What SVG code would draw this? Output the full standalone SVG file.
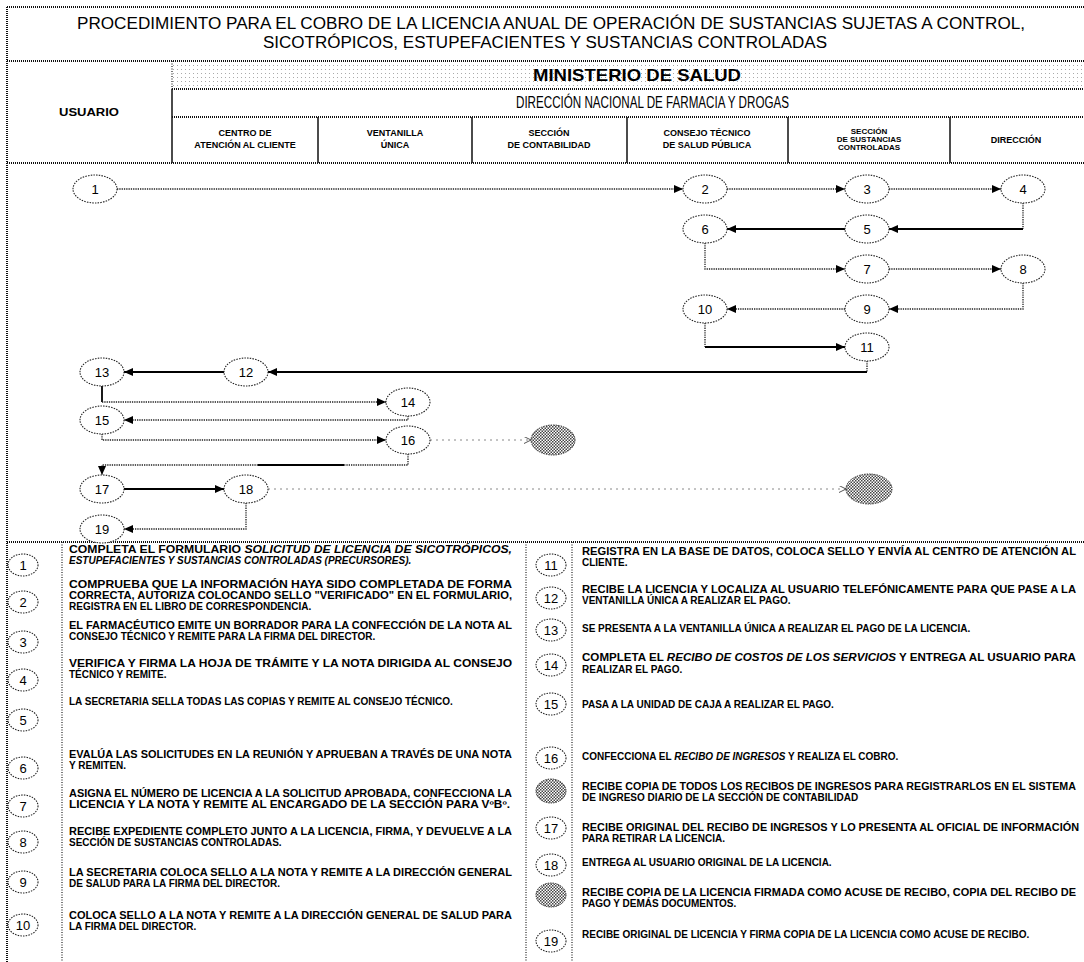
<svg xmlns="http://www.w3.org/2000/svg" width="1084" height="962" viewBox="0 0 1084 962">
  <defs>
    <style>
      .frame { fill: none; stroke: #111; stroke-width: 2; stroke-dasharray: 1 1; }
      .col { fill: none; stroke: #111; stroke-width: 1.5; }
      .vdot { fill: none; stroke: #222; stroke-width: 1.2; stroke-dasharray: 1 1.5; }
      .title { font-family: "Liberation Sans", Arial, sans-serif; font-size: 16px; fill: #000; }
      .hb { font-family: "Liberation Sans", Arial, sans-serif; font-weight: bold; fill: #000; text-anchor: middle; }
      .ch { font-family: "Liberation Sans", Arial, sans-serif; font-weight: bold; font-size: 9px; fill: #000; text-anchor: middle; }
      .ch3 { font-family: "Liberation Sans", Arial, sans-serif; font-weight: bold; font-size: 8px; fill: #000; text-anchor: middle; }
      .node ellipse { fill: #fff; stroke: #222; stroke-width: 1.1; stroke-dasharray: 1.5 1.2; }
      .node text { font-family: "Liberation Sans", Arial, sans-serif; font-size: 13px; fill: #000; text-anchor: middle; }
      .shade ellipse { fill: url(#hatch); stroke: #333; stroke-width: 1; stroke-dasharray: 1.5 1; }
      .dot { fill: none; stroke: #222; stroke-width: 1.3; stroke-dasharray: 1.3 1; }
      .solid { fill: none; stroke: #000; stroke-width: 1.8; }
      .sparse { fill: none; stroke: #888; stroke-width: 1; stroke-dasharray: 2 4; }
      .lg { font-family: "Liberation Sans", Arial, sans-serif; font-weight: bold; font-size: 10px; fill: #000; }
      .it { font-style: italic; }
    </style>
    <pattern id="stipple" width="4" height="4" patternUnits="userSpaceOnUse">
      <rect x="1" y="1" width="1" height="1" fill="#aaa"/>
    </pattern>
    <pattern id="hatch" width="3" height="3" patternUnits="userSpaceOnUse">
      <rect width="3" height="3" fill="#fff"/>
      <rect width="1.5" height="1.5" fill="#444"/>
      <rect x="1.5" y="1.5" width="1.5" height="1.5" fill="#444"/>
    </pattern>
    <marker id="arrow" markerUnits="userSpaceOnUse" markerWidth="9" markerHeight="8" refX="9" refY="4" orient="auto">
      <path d="M0,0 L9,4 L0,8 z" fill="#000"/>
    </marker>
    <marker id="arrowLight" markerUnits="userSpaceOnUse" markerWidth="7" markerHeight="7" refX="7" refY="3.5" orient="auto">
      <path d="M0,0 L7,3.5 L0,7" fill="none" stroke="#555" stroke-width="1"/>
    </marker>
  </defs>

  <rect width="1084" height="962" fill="#fff"/>

  <!-- header table -->
  <g id="header">
    <rect x="172" y="61" width="912" height="28" fill="url(#stipple)"/>
    <path class="frame" d="M7,7 H1084 M7,7 V962 M7,61 H1084 M172,89 H1084 M172,117 H1084 M7,163 H1084 M7,542 H1084"/>
    <path class="col" d="M172,89 V163 M318,117 V163 M472,117 V163 M627,117 V163 M788,117 V163 M950,117 V163"/>
    <path class="vdot" d="M172,61 V89"/>
    <text class="title" x="77" y="29" textLength="948" lengthAdjust="spacingAndGlyphs">PROCEDIMIENTO PARA EL COBRO DE LA LICENCIA ANUAL DE OPERACIÓN DE SUSTANCIAS SUJETAS A CONTROL,</text>
    <text class="title" x="263" y="48" textLength="564" lengthAdjust="spacingAndGlyphs">SICOTRÓPICOS, ESTUPEFACIENTES Y SUSTANCIAS CONTROLADAS</text>
    <text class="hb" x="637" y="81" font-size="17" textLength="208" lengthAdjust="spacingAndGlyphs">MINISTERIO DE SALUD</text>
    <text class="title" x="516" y="108" font-size="10.5" textLength="273" lengthAdjust="spacingAndGlyphs">DIRECCIÓN NACIONAL DE FARMACIA Y DROGAS</text>
    <text class="hb" x="89" y="116" font-size="10" textLength="60" lengthAdjust="spacingAndGlyphs">USUARIO</text>
    <text class="ch" x="245" y="136">CENTRO DE</text>
    <text class="ch" x="245" y="148">ATENCIÓN AL CLIENTE</text>
    <text class="ch" x="395" y="136">VENTANILLA</text>
    <text class="ch" x="395" y="148">ÚNICA</text>
    <text class="ch" x="549" y="136">SECCIÓN</text>
    <text class="ch" x="549" y="148">DE CONTABILIDAD</text>
    <text class="ch" x="707" y="136">CONSEJO TÉCNICO</text>
    <text class="ch" x="707" y="148">DE SALUD PÚBLICA</text>
    <text class="ch3" x="869" y="134">SECCIÓN</text>
    <text class="ch3" x="869" y="142">DE SUSTANCIAS</text>
    <text class="ch3" x="869" y="150">CONTROLADAS</text>
    <text class="ch" x="1016" y="143">DIRECCIÓN</text>
  </g>

  <!-- flow connectors -->
  <g id="connectors">
    <path class="dot" d="M117,189 H683" marker-end="url(#arrow)"/>
    <path class="dot" d="M727,189 H845" marker-end="url(#arrow)"/>
    <path class="dot" d="M889,189 H1001" marker-end="url(#arrow)"/>
    <path class="dot" d="M1023,203 V229"/>
    <path class="solid" d="M1023,229 H889" marker-end="url(#arrow)"/>
    <path class="solid" d="M845,229 H727" marker-end="url(#arrow)"/>
    <path class="dot" d="M705,243 V269 H845" marker-end="url(#arrow)"/>
    <path class="dot" d="M889,269 H1001" marker-end="url(#arrow)"/>
    <path class="dot" d="M1023,283 V309 H889" marker-end="url(#arrow)"/>
    <path class="dot" d="M845,309 H727" marker-end="url(#arrow)"/>
    <path class="dot" d="M705,323 V347"/>
    <path class="solid" d="M705,347 H845" marker-end="url(#arrow)"/>
    <path class="dot" d="M867,361 V372"/>
    <path class="solid" d="M867,372 H268" marker-end="url(#arrow)"/>
    <path class="solid" d="M224,372 H124" marker-end="url(#arrow)"/>
    <path class="solid" d="M102,386 V402"/>
    <path class="dot" d="M102,402 H386" marker-end="url(#arrow)"/>
    <path class="dot" d="M408,416 V420 H124" marker-end="url(#arrow)"/>
    <path class="dot" d="M102,434 V440 H386" marker-end="url(#arrow)"/>
    <path class="sparse" d="M430,440 H531" marker-end="url(#arrowLight)"/>
    <path class="dot" d="M408,454 V465 H344"/>
    <path class="solid" d="M344,465 H258"/>
    <path class="dot" d="M258,465 H102 V475" marker-end="url(#arrow)"/>
    <path class="solid" d="M124,489 H224" marker-end="url(#arrow)"/>
    <path class="sparse" d="M268,489 H846" marker-end="url(#arrowLight)"/>
    <path class="dot" d="M246,503 V529 H124" marker-end="url(#arrow)"/>
  </g>

  <!-- flow nodes -->
  <g id="node-1" class="node"><ellipse cx="95" cy="189" rx="22" ry="14"/><text x="95" y="194">1</text></g>
  <g id="node-2" class="node"><ellipse cx="705" cy="189" rx="22" ry="14"/><text x="705" y="194">2</text></g>
  <g id="node-3" class="node"><ellipse cx="867" cy="189" rx="22" ry="14"/><text x="867" y="194">3</text></g>
  <g id="node-4" class="node"><ellipse cx="1023" cy="189" rx="22" ry="14"/><text x="1023" y="194">4</text></g>
  <g id="node-5" class="node"><ellipse cx="867" cy="229" rx="22" ry="14"/><text x="867" y="234">5</text></g>
  <g id="node-6" class="node"><ellipse cx="705" cy="229" rx="22" ry="14"/><text x="705" y="234">6</text></g>
  <g id="node-7" class="node"><ellipse cx="867" cy="269" rx="22" ry="14"/><text x="867" y="274">7</text></g>
  <g id="node-8" class="node"><ellipse cx="1023" cy="269" rx="22" ry="14"/><text x="1023" y="274">8</text></g>
  <g id="node-9" class="node"><ellipse cx="867" cy="309" rx="22" ry="14"/><text x="867" y="314">9</text></g>
  <g id="node-10" class="node"><ellipse cx="705" cy="309" rx="22" ry="14"/><text x="705" y="314">10</text></g>
  <g id="node-11" class="node"><ellipse cx="867" cy="347" rx="22" ry="14"/><text x="867" y="352">11</text></g>
  <g id="node-12" class="node"><ellipse cx="246" cy="372" rx="22" ry="14"/><text x="246" y="377">12</text></g>
  <g id="node-13" class="node"><ellipse cx="102" cy="372" rx="22" ry="14"/><text x="102" y="377">13</text></g>
  <g id="node-14" class="node"><ellipse cx="408" cy="402" rx="22" ry="14"/><text x="408" y="407">14</text></g>
  <g id="node-15" class="node"><ellipse cx="102" cy="420" rx="22" ry="14"/><text x="102" y="425">15</text></g>
  <g id="node-16" class="node"><ellipse cx="408" cy="440" rx="22" ry="14"/><text x="408" y="445">16</text></g>
  <g id="node-contabilidad" class="shade"><ellipse cx="553" cy="440" rx="22" ry="15"/></g>
  <g id="node-17" class="node"><ellipse cx="102" cy="489" rx="22" ry="14"/><text x="102" y="494">17</text></g>
  <g id="node-18" class="node"><ellipse cx="246" cy="489" rx="22" ry="14"/><text x="246" y="494">18</text></g>
  <g id="node-direccion" class="shade"><ellipse cx="869" cy="489" rx="23" ry="15"/></g>
  <g id="node-19" class="node"><ellipse cx="102" cy="529" rx="22" ry="14"/><text x="102" y="534">19</text></g>

  <!-- step descriptions -->
  <g id="legend">
    <path class="vdot" d="M62,542 V962 M526,542 V962 M572,542 V962"/>

    <g id="step-1"><g class="node"><ellipse cx="23" cy="565" rx="15" ry="11"/><text x="23" y="570">1</text></g>
      <text class="lg" x="69" y="553" textLength="443" lengthAdjust="spacingAndGlyphs">COMPLETA EL FORMULARIO <tspan class="it">SOLICITUD DE LICENCIA DE SICOTRÓPICOS,</tspan></text>
      <text class="lg it" x="69" y="564">ESTUPEFACIENTES Y SUSTANCIAS CONTROLADAS (PRECURSORES).</text></g>
    <g id="step-2"><g class="node"><ellipse cx="23" cy="602" rx="15" ry="11"/><text x="23" y="607">2</text></g>
      <text class="lg" x="69" y="588" textLength="443" lengthAdjust="spacingAndGlyphs">COMPRUEBA QUE LA INFORMACIÓN HAYA SIDO COMPLETADA DE FORMA</text>
      <text class="lg" x="69" y="599" textLength="443" lengthAdjust="spacingAndGlyphs">CORRECTA, AUTORIZA COLOCANDO SELLO "VERIFICADO" EN EL FORMULARIO,</text>
      <text class="lg" x="69" y="610">REGISTRA EN EL LIBRO DE CORRESPONDENCIA.</text></g>
    <g id="step-3"><g class="node"><ellipse cx="23" cy="642" rx="15" ry="11"/><text x="23" y="647">3</text></g>
      <text class="lg" x="69" y="628.5" textLength="443" lengthAdjust="spacingAndGlyphs">EL FARMACÉUTICO EMITE UN BORRADOR PARA LA CONFECCIÓN DE LA NOTA AL</text>
      <text class="lg" x="69" y="639.5">CONSEJO TÉCNICO Y REMITE PARA LA FIRMA DEL DIRECTOR.</text></g>
    <g id="step-4"><g class="node"><ellipse cx="23" cy="680" rx="15" ry="11"/><text x="23" y="685">4</text></g>
      <text class="lg" x="69" y="666.5" textLength="443" lengthAdjust="spacingAndGlyphs">VERIFICA Y FIRMA LA HOJA DE TRÁMITE Y LA NOTA DIRIGIDA AL CONSEJO</text>
      <text class="lg" x="69" y="677.5">TÉCNICO Y REMITE.</text></g>
    <g id="step-5"><g class="node"><ellipse cx="23" cy="720" rx="15" ry="11"/><text x="23" y="725">5</text></g>
      <text class="lg" x="69" y="705">LA SECRETARIA SELLA TODAS LAS COPIAS Y REMITE AL CONSEJO TÉCNICO.</text></g>
    <g id="step-6"><g class="node"><ellipse cx="23" cy="768" rx="15" ry="11"/><text x="23" y="773">6</text></g>
      <text class="lg" x="69" y="757.5" textLength="443" lengthAdjust="spacingAndGlyphs">EVALÚA LAS SOLICITUDES EN LA REUNIÓN Y APRUEBAN A TRAVÉS DE UNA NOTA</text>
      <text class="lg" x="69" y="768.5">Y REMITEN.</text></g>
    <g id="step-7"><g class="node"><ellipse cx="23" cy="806" rx="15" ry="11"/><text x="23" y="811">7</text></g>
      <text class="lg" x="69" y="796.5" textLength="443" lengthAdjust="spacingAndGlyphs">ASIGNA EL NÚMERO DE LICENCIA A LA SOLICITUD APROBADA, CONFECCIONA LA</text>
      <text class="lg" x="69" y="807.5" textLength="441" lengthAdjust="spacingAndGlyphs">LICENCIA Y LA NOTA Y REMITE AL ENCARGADO DE LA SECCIÓN PARA VºBº.</text></g>
    <g id="step-8"><g class="node"><ellipse cx="23" cy="842" rx="15" ry="11"/><text x="23" y="847">8</text></g>
      <text class="lg" x="69" y="834.5" textLength="443" lengthAdjust="spacingAndGlyphs">RECIBE EXPEDIENTE COMPLETO JUNTO A LA LICENCIA, FIRMA, Y DEVUELVE A LA</text>
      <text class="lg" x="69" y="845.5">SECCIÓN DE SUSTANCIAS CONTROLADAS.</text></g>
    <g id="step-9"><g class="node"><ellipse cx="23" cy="882" rx="15" ry="11"/><text x="23" y="887">9</text></g>
      <text class="lg" x="69" y="875.5" textLength="443" lengthAdjust="spacingAndGlyphs">LA SECRETARIA COLOCA SELLO A LA NOTA Y REMITE A LA DIRECCIÓN GENERAL</text>
      <text class="lg" x="69" y="886.5">DE SALUD PARA LA FIRMA DEL DIRECTOR.</text></g>
    <g id="step-10"><g class="node"><ellipse cx="23" cy="925" rx="15" ry="11"/><text x="23" y="930">10</text></g>
      <text class="lg" x="69" y="918.5" textLength="443" lengthAdjust="spacingAndGlyphs">COLOCA SELLO A LA NOTA Y REMITE A LA DIRECCIÓN GENERAL DE SALUD PARA</text>
      <text class="lg" x="69" y="929.5">LA FIRMA DEL DIRECTOR.</text></g>

    <g id="step-11"><g class="node"><ellipse cx="551" cy="565" rx="15" ry="11"/><text x="551" y="570">11</text></g>
      <text class="lg" x="582" y="555" textLength="494" lengthAdjust="spacingAndGlyphs">REGISTRA EN LA BASE DE DATOS, COLOCA SELLO Y ENVÍA AL CENTRO DE ATENCIÓN AL</text>
      <text class="lg" x="582" y="566">CLIENTE.</text></g>
    <g id="step-12"><g class="node"><ellipse cx="551" cy="598" rx="15" ry="11"/><text x="551" y="603">12</text></g>
      <text class="lg" x="582" y="592.5" textLength="494" lengthAdjust="spacingAndGlyphs">RECIBE LA LICENCIA Y LOCALIZA AL USUARIO TELEFÓNICAMENTE PARA QUE PASE A LA</text>
      <text class="lg" x="582" y="603.5">VENTANILLA ÚNICA A REALIZAR EL PAGO.</text></g>
    <g id="step-13"><g class="node"><ellipse cx="551" cy="630" rx="15" ry="11"/><text x="551" y="635">13</text></g>
      <text class="lg" x="582" y="632">SE PRESENTA A LA VENTANILLA ÚNICA A REALIZAR EL PAGO DE LA LICENCIA.</text></g>
    <g id="step-14"><g class="node"><ellipse cx="551" cy="665" rx="15" ry="11"/><text x="551" y="670">14</text></g>
      <text class="lg" x="582" y="661" textLength="494" lengthAdjust="spacingAndGlyphs">COMPLETA EL <tspan class="it">RECIBO DE COSTOS DE LOS SERVICIOS</tspan>  Y ENTREGA AL USUARIO PARA</text>
      <text class="lg" x="582" y="673">REALIZAR EL PAGO.</text></g>
    <g id="step-15"><g class="node"><ellipse cx="551" cy="704" rx="15" ry="11"/><text x="551" y="709">15</text></g>
      <text class="lg" x="582" y="708">PASA A LA UNIDAD DE CAJA A REALIZAR EL PAGO.</text></g>
    <g id="step-16"><g class="node"><ellipse cx="551" cy="758" rx="15" ry="11"/><text x="551" y="763">16</text></g>
      <text class="lg" x="582" y="760">CONFECCIONA EL <tspan class="it">RECIBO DE INGRESOS</tspan> Y REALIZA EL COBRO.</text></g>
    <g id="step-contabilidad"><g class="shade"><ellipse cx="551" cy="791" rx="15" ry="12"/></g>
      <text class="lg" x="582" y="790" textLength="494" lengthAdjust="spacingAndGlyphs">RECIBE COPIA DE TODOS LOS RECIBOS DE INGRESOS PARA REGISTRARLOS EN EL SISTEMA</text>
      <text class="lg" x="582" y="801">DE INGRESO DIARIO DE LA SECCIÓN DE CONTABILIDAD</text></g>
    <g id="step-17"><g class="node"><ellipse cx="551" cy="828" rx="15" ry="11"/><text x="551" y="833">17</text></g>
      <text class="lg" x="582" y="830.5" textLength="497" lengthAdjust="spacingAndGlyphs">RECIBE ORIGINAL DEL RECIBO DE INGRESOS Y LO PRESENTA AL OFICIAL DE INFORMACIÓN</text>
      <text class="lg" x="582" y="841.5">PARA RETIRAR LA LICENCIA.</text></g>
    <g id="step-18"><g class="node"><ellipse cx="551" cy="865" rx="15" ry="11"/><text x="551" y="870">18</text></g>
      <text class="lg" x="582" y="866">ENTREGA AL USUARIO ORIGINAL DE LA LICENCIA.</text></g>
    <g id="step-direccion"><g class="shade"><ellipse cx="551" cy="895" rx="15" ry="12"/></g>
      <text class="lg" x="582" y="895.5" textLength="494" lengthAdjust="spacingAndGlyphs">RECIBE COPIA DE LA LICENCIA FIRMADA COMO ACUSE DE RECIBO, COPIA DEL RECIBO DE</text>
      <text class="lg" x="582" y="906.5">PAGO Y DEMÁS DOCUMENTOS.</text></g>
    <g id="step-19"><g class="node"><ellipse cx="551" cy="941" rx="15" ry="11"/><text x="551" y="946">19</text></g>
      <text class="lg" x="582" y="938">RECIBE ORIGINAL DE LICENCIA Y FIRMA COPIA DE LA LICENCIA COMO ACUSE DE RECIBO.</text></g>
  </g>
</svg>
